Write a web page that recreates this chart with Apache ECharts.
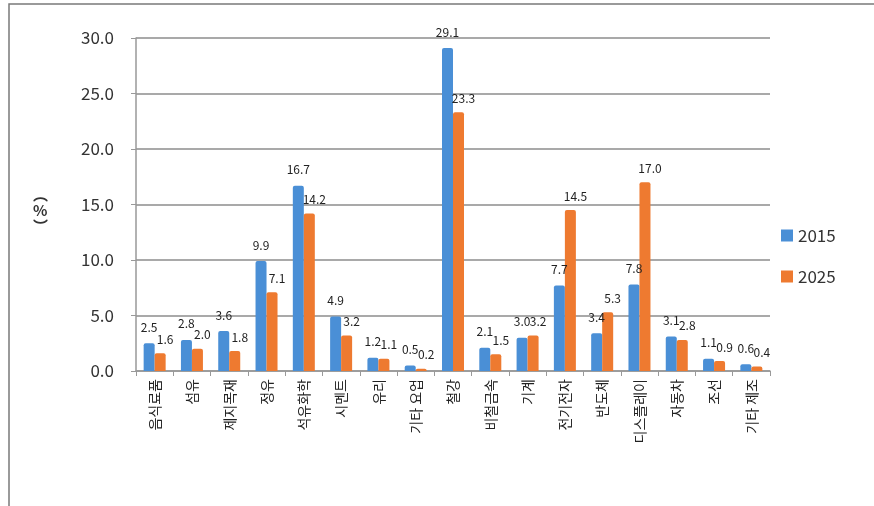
<!DOCTYPE html>
<html>
<head>
<meta charset="utf-8">
<script src="https://cdn.jsdelivr.net/npm/echarts@6/dist/echarts.min.js"></script>
<style>
  html, body { margin: 0; padding: 0; background: #fff; }
  #main { width: 874px; height: 506px; }
</style>
</head>
<body>
<div id="main"></div>
<script>
var categories = ['음식료품', '섬유', '제지목재', '정유', '석유화학', '시멘트', '유리', '기타 요업', '철강',
    '비철금속', '기계', '전기전자', '반도체', '디스플레이', '자동차', '조선', '기타 제조'];
var data2015 = [2.5, 2.8, 3.6, 9.9, 16.7, 4.9, 1.2, 0.5, 29.1, 2.1, 3.0, 7.7, 3.4, 7.8, 3.1, 1.1, 0.6];
var data2025 = [1.6, 2.0, 1.8, 7.1, 14.2, 3.2, 1.1, 0.2, 23.3, 1.5, 3.2, 14.5, 5.3, 17.0, 2.8, 0.9, 0.4];
var yTicks = [0, 5, 10, 15, 20, 25, 30];

var font = '"Noto Sans CJK KR", "Noto Sans", sans-serif';
var myChart = echarts.init(document.getElementById('main'));

var option = {
    animation: false,
    textStyle: { fontFamily: font },
    graphic: [
        {   // 바깥 테두리
            type: 'rect',
            shape: { x: 9, y: 4, width: 900, height: 540 },
            style: { fill: 'none', stroke: '#7a7a7a', lineWidth: 1.5 }
        },
        {   // (%) 단위
            type: 'text',
            left: 33,
            top: 186,
            style: {
                text: '︵\n%\n︶',
                font: 'bold 15px "Noto Sans CJK KR"',
                fill: '#333',
                align: 'center',
                lineHeight: 16
            }
        }
    ],
    legend: {
        orient: 'vertical',
        left: 776,
        top: 222,
        itemWidth: 12,
        itemHeight: 12,
        itemGap: 24,
        icon: 'rect',
        textStyle: { fontSize: 17, color: '#333', fontFamily: font },
        data: ['2015', '2025']
    },
    grid: {
        left: 136,
        right: 104,
        top: 38,
        bottom: 135
    },
    xAxis: {
        type: 'category',
        data: categories,
        axisLine: { lineStyle: { color: '#999', width: 1.5 } },
        axisTick: { show: true, lineStyle: { color: '#999' }, length: 5 },
        axisLabel: {
            rotate: 90,
            interval: 0,
            fontSize: 14,
            color: '#222',
            margin: 8,
            fontFamily: font
        }
    },
    yAxis: {
        type: 'value',
        min: 0,
        max: 30,
        interval: 5,
        axisLine: { show: true, lineStyle: { color: '#999', width: 1.5 } },
        axisTick: { show: true, lineStyle: { color: '#999' }, length: 5 },
        axisLabel: {
            fontSize: 17,
            color: '#333',
            margin: 22,
            fontFamily: font,
            formatter: function (v) { return yTicks.indexOf(v) >= 0 ? v.toFixed(1) : ''; }
        },
        splitLine: { lineStyle: { color: '#8c8c8c', width: 1.5 } }
    },
    series: [
        {
            name: '2015',
            type: 'bar',
            data: data2015,
            barWidth: 11,
            barGap: '0%',
            itemStyle: { color: '#4a8fd6', borderRadius: [2, 2, 0, 0] },
            label: {
                show: true,
                position: 'top',
                distance: 10,
                fontSize: 12,
                color: '#222',
                formatter: function (p) { return p.value.toFixed(1); }
            }
        },
        {
            name: '2025',
            type: 'bar',
            data: data2025,
            barWidth: 11,
            itemStyle: { color: '#ee7a30', borderRadius: [2, 2, 0, 0] },
            label: {
                show: true,
                position: 'top',
                distance: 8,
                offset: [5, 0],
                fontSize: 12,
                color: '#222',
                formatter: function (p) { return p.value.toFixed(1); }
            }
        }
    ]
};
myChart.setOption(option);
</script>
</body>
</html>
